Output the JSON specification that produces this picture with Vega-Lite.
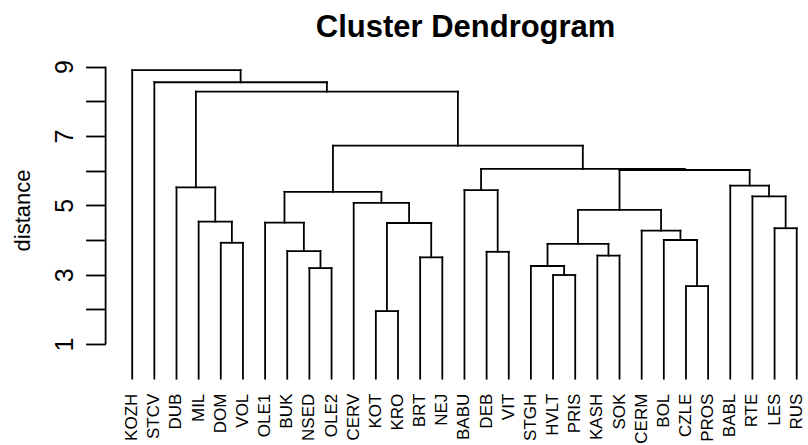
{
  "$schema": "https://vega.github.io/schema/vega-lite/v6.json",
  "width": 700,
  "height": 320.7,
  "autosize": {"type": "none"},
  "padding": {"left": 105.6, "top": 58, "right": 2, "bottom": 66},
  "background": "white",
  "title": {
    "text": "Cluster Dendrogram",
    "font": "Liberation Sans",
    "fontSize": 31,
    "fontWeight": "bold",
    "color": "black",
    "offset": 14,
    "dx": 10
  },
  "config": {"view": {"stroke": null}},
  "datasets": {
    "leaves": [
      {"idx": 1, "name": "KOZH"}, {"idx": 2, "name": "STCV"}, {"idx": 3, "name": "DUB"},
      {"idx": 4, "name": "MIL"}, {"idx": 5, "name": "DOM"}, {"idx": 6, "name": "VOL"},
      {"idx": 7, "name": "OLE1"}, {"idx": 8, "name": "BUK"}, {"idx": 9, "name": "NSED"},
      {"idx": 10, "name": "OLE2"}, {"idx": 11, "name": "CERV"}, {"idx": 12, "name": "KOT"},
      {"idx": 13, "name": "KRO"}, {"idx": 14, "name": "BRT"}, {"idx": 15, "name": "NEJ"},
      {"idx": 16, "name": "BABU"}, {"idx": 17, "name": "DEB"}, {"idx": 18, "name": "VIT"},
      {"idx": 19, "name": "STGH"}, {"idx": 20, "name": "HVLT"}, {"idx": 21, "name": "PRIS"},
      {"idx": 22, "name": "KASH"}, {"idx": 23, "name": "SOK"}, {"idx": 24, "name": "CERM"},
      {"idx": 25, "name": "BOL"}, {"idx": 26, "name": "CZLE"}, {"idx": 27, "name": "PROS"},
      {"idx": 28, "name": "BABL"}, {"idx": 29, "name": "RTE"}, {"idx": 30, "name": "LES"},
      {"idx": 31, "name": "RUS"}
    ],
    "merges": [
      {"id": 1, "xl": 5, "hl": 0, "xr": 6, "hr": 0, "h": 3.92},
      {"id": 2, "xl": 4, "hl": 0, "xr": 5.5, "hr": 3.92, "h": 4.53},
      {"id": 3, "xl": 3, "hl": 0, "xr": 4.75, "hr": 4.53, "h": 5.52},
      {"id": 4, "xl": 9, "hl": 0, "xr": 10, "hr": 0, "h": 3.19},
      {"id": 5, "xl": 8, "hl": 0, "xr": 9.5, "hr": 3.19, "h": 3.68},
      {"id": 6, "xl": 7, "hl": 0, "xr": 8.75, "hr": 3.68, "h": 4.5},
      {"id": 7, "xl": 12, "hl": 0, "xr": 13, "hr": 0, "h": 1.95},
      {"id": 8, "xl": 14, "hl": 0, "xr": 15, "hr": 0, "h": 3.5},
      {"id": 9, "xl": 12.5, "hl": 1.95, "xr": 14.5, "hr": 3.5, "h": 4.49},
      {"id": 10, "xl": 11, "hl": 0, "xr": 13.5, "hr": 4.49, "h": 5.07},
      {"id": 11, "xl": 7.875, "hl": 4.5, "xr": 12.25, "hr": 5.07, "h": 5.39},
      {"id": 12, "xl": 17, "hl": 0, "xr": 18, "hr": 0, "h": 3.66},
      {"id": 13, "xl": 16, "hl": 0, "xr": 17.5, "hr": 3.66, "h": 5.44},
      {"id": 14, "xl": 20, "hl": 0, "xr": 21, "hr": 0, "h": 2.99},
      {"id": 15, "xl": 19, "hl": 0, "xr": 20.5, "hr": 2.99, "h": 3.25},
      {"id": 16, "xl": 22, "hl": 0, "xr": 23, "hr": 0, "h": 3.55},
      {"id": 17, "xl": 19.75, "hl": 3.25, "xr": 22.5, "hr": 3.55, "h": 3.89},
      {"id": 18, "xl": 26, "hl": 0, "xr": 27, "hr": 0, "h": 2.67},
      {"id": 19, "xl": 25, "hl": 0, "xr": 26.5, "hr": 2.67, "h": 4.0},
      {"id": 20, "xl": 24, "hl": 0, "xr": 25.75, "hr": 4.0, "h": 4.27},
      {"id": 21, "xl": 21.125, "hl": 3.89, "xr": 24.875, "hr": 4.27, "h": 4.87},
      {"id": 22, "xl": 30, "hl": 0, "xr": 31, "hr": 0, "h": 4.34},
      {"id": 23, "xl": 29, "hl": 0, "xr": 30.5, "hr": 4.34, "h": 5.26},
      {"id": 24, "xl": 28, "hl": 0, "xr": 29.75, "hr": 5.26, "h": 5.57},
      {"id": 25, "xl": 23, "hl": 4.87, "xr": 28.875, "hr": 5.57, "h": 6.02},
      {"id": 26, "xl": 16.75, "hl": 5.44, "xr": 25.9375, "hr": 6.02, "h": 6.05},
      {"id": 27, "xl": 10.0625, "hl": 5.39, "xr": 21.34375, "hr": 6.05, "h": 6.72},
      {"id": 28, "xl": 3.875, "hl": 5.52, "xr": 15.703125, "hr": 6.72, "h": 8.28},
      {"id": 29, "xl": 2, "hl": 0, "xr": 9.7890625, "hr": 8.28, "h": 8.55},
      {"id": 30, "xl": 1, "hl": 0, "xr": 5.89453125, "hr": 8.55, "h": 8.9}
    ]
  },
  "layer": [
    {
      "data": {"name": "merges"},
      "mark": {"type": "rule", "color": "black", "strokeWidth": 1.8, "strokeCap": "square"},
      "encoding": {
        "x": {
          "field": "xl",
          "type": "quantitative",
          "scale": {"domain": [-0.2, 31.4], "nice": false, "zero": false},
          "axis": null
        },
        "x2": {"field": "xr"},
        "y": {
          "field": "h",
          "type": "quantitative",
          "scale": {"domain": [0, 9.25], "nice": false, "zero": false},
          "axis": {
            "title": "distance",
            "titleFont": "Liberation Sans",
            "titleFontSize": 22,
            "titleFontWeight": "normal",
            "titleColor": "black",
            "titleAngle": 270,
            "titleAlign": "center",
            "titleBaseline": "middle",
            "titleX": -83,
            "titleY": 152,
            "values": [1, 2, 3, 4, 5, 6, 7, 8, 9],
            "labelExpr": "datum.value % 2 == 1 ? datum.label : ''",
            "labelAngle": 270,
            "labelAlign": "center",
            "labelBaseline": "bottom",
            "labelFont": "Liberation Sans",
            "labelFontSize": 25,
            "labelColor": "black",
            "labelPadding": 8,
            "tickSize": 20,
            "tickWidth": 1.8,
            "tickColor": "black",
            "domain": false,
            "grid": false
          }
        }
      }
    },
    {
      "data": {"name": "merges"},
      "mark": {"type": "rule", "color": "black", "strokeWidth": 1.8, "strokeCap": "square"},
      "encoding": {
        "x": {"field": "xl", "type": "quantitative", "axis": null},
        "y": {"field": "hl", "type": "quantitative"},
        "y2": {"field": "h"}
      }
    },
    {
      "data": {"name": "merges"},
      "mark": {"type": "rule", "color": "black", "strokeWidth": 1.8, "strokeCap": "square"},
      "encoding": {
        "x": {"field": "xr", "type": "quantitative", "axis": null},
        "y": {"field": "hr", "type": "quantitative"},
        "y2": {"field": "h"}
      }
    },
    {
      "data": {"name": "leaves"},
      "mark": {
        "type": "text",
        "angle": 270,
        "align": "right",
        "baseline": "middle",
        "dx": -15,
        "font": "Liberation Sans",
        "fontSize": 17,
        "color": "black"
      },
      "encoding": {
        "x": {"field": "idx", "type": "quantitative", "axis": null},
        "y": {"datum": 0, "type": "quantitative"},
        "text": {"field": "name"}
      }
    },
    {
      "data": {"values": [{}]},
      "mark": {"type": "rule", "color": "black", "strokeWidth": 1.8},
      "encoding": {
        "x": {"datum": -0.2, "type": "quantitative", "axis": null},
        "y": {"datum": 1, "type": "quantitative"},
        "y2": {"datum": 9}
      }
    }
  ]
}
